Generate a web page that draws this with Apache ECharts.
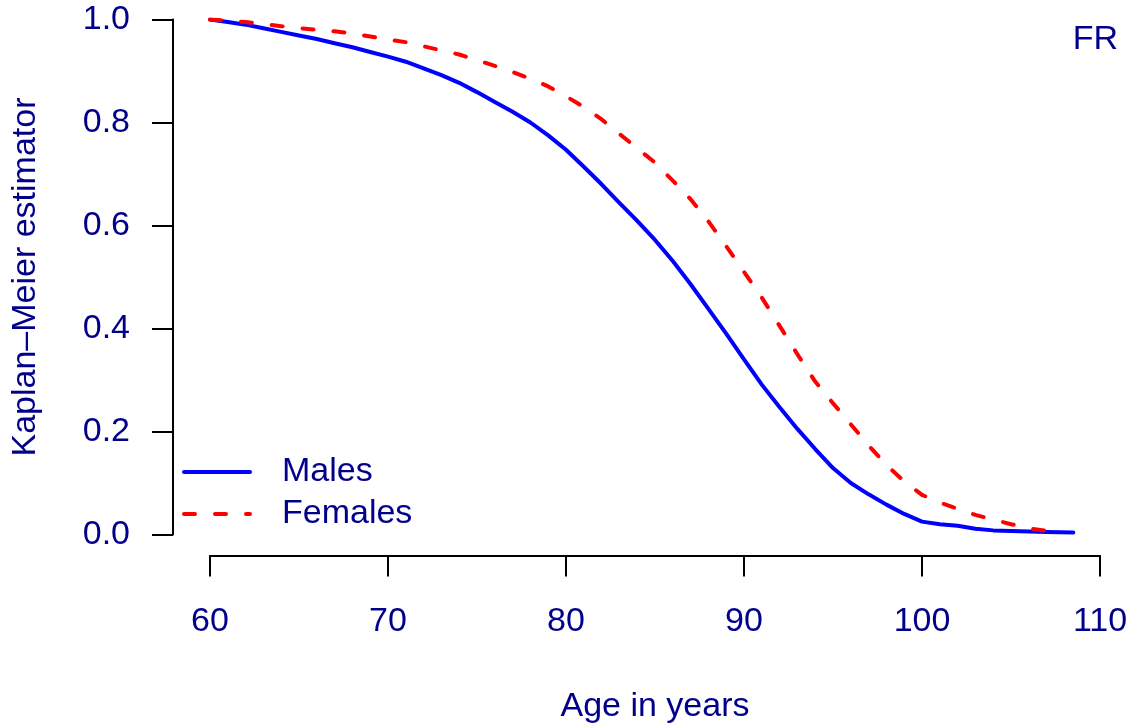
<!DOCTYPE html>
<html>
<head>
<meta charset="utf-8">
<script src="https://cdn.jsdelivr.net/npm/echarts@6/dist/echarts.min.js"></script>
<style>
html,body{margin:0;padding:0;background:#fff;}
#chart{width:1132px;height:724px;}
</style>
</head>
<body>
<div id="chart"></div>
<script>
// Age grid (years) and Kaplan–Meier survival estimates
const maleAges = [60,61,62,63,64,65,66,67,68,69,70,71,72,73,74,75,76,77,78,79,80,81,82,83,84,85,86,87,88,89,90,91,92,93,94,95,96,97,98,99,100,101,102,103,104,105,106,107,108.5];
const maleSurv = [1.000,0.995,0.990,0.983,0.976,0.969,0.962,0.954,0.946,0.937,0.928,0.918,0.905,0.892,0.877,0.859,0.840,0.821,0.800,0.775,0.747,0.714,0.680,0.644,0.609,0.572,0.531,0.486,0.438,0.390,0.340,0.291,0.247,0.205,0.166,0.129,0.100,0.078,0.058,0.040,0.025,0.020,0.017,0.011,0.008,0.007,0.006,0.005,0.004];
const femaleAges = [60,61,62,63,64,65,66,67,68,69,70,71,72,73,74,75,76,77,78,79,80,81,82,83,84,85,86,87,88,89,90,91,92,93,94,95,96,97,98,99,100,101,102,103,104,105,106,107,107.5];
const femaleSurv = [1.000,0.998,0.995,0.991,0.987,0.983,0.980,0.977,0.973,0.967,0.961,0.956,0.948,0.940,0.932,0.921,0.910,0.898,0.885,0.870,0.851,0.830,0.806,0.778,0.750,0.722,0.687,0.651,0.608,0.560,0.510,0.460,0.405,0.350,0.297,0.255,0.214,0.173,0.135,0.103,0.077,0.062,0.050,0.038,0.029,0.020,0.012,0.007,0.005];
const seriesNames = ['Males','Females'];
const xTicks = [60,70,80,90,100,110];
const yTicks = [0,0.2,0.4,0.6,0.8,1.0];
const xTitle = 'Age in years';
const yTitle = 'Kaplan\u2013Meier estimator';
const panelLabel = 'FR';

const TXT = '#00008B';
const FONT = 'Liberation Sans';
const FS = 34;
const zip = (a, b) => a.map((v, i) => [v, b[i]]);

const chart = echarts.init(document.getElementById('chart'), null, {renderer: 'canvas'});
const axisCommon = {
  axisLine: {show: true, onZero: false, lineStyle: {color: '#000', width: 2}},
  axisTick: {show: true, length: 21, inside: false, lineStyle: {color: '#000', width: 2}},
  splitLine: {show: false},
  nameTextStyle: {color: TXT, fontSize: FS, fontFamily: FONT},
};
chart.setOption({
  animation: false,
  backgroundColor: '#fff',
  title: {
    text: panelLabel, right: 14, top: 23, padding: 0,
    textStyle: {color: TXT, fontSize: FS, fontWeight: 'normal', fontFamily: FONT}
  },
  grid: {left: 210, right: 32, top: 19.5, bottom: 189.5, containLabel: false, outerBoundsMode: 'none'},
  legend: {
    orient: 'vertical', left: 182, top: 451, padding: 0,
    itemWidth: 66, itemHeight: 14, itemGap: 0,
    data: seriesNames,
    itemStyle: {opacity: 0},
    lineStyle: {width: 4, cap: 'round'},
    textStyle: {color: TXT, fontSize: FS, fontFamily: FONT, lineHeight: 42, padding: [0,0,0,27]}
  },
  xAxis: Object.assign({}, axisCommon, {
    type: 'value', min: xTicks[0], max: xTicks[xTicks.length-1], interval: 10,
    offset: 21, position: 'bottom',
    axisLabel: {color: TXT, fontSize: FS, fontFamily: FONT, margin: 49},
    name: xTitle, nameLocation: 'middle', nameGap: 134
  }),
  yAxis: Object.assign({}, axisCommon, {
    type: 'value', min: yTicks[0], max: yTicks[yTicks.length-1], interval: 0.2,
    offset: 37, position: 'left',
    axisLabel: {color: TXT, fontSize: FS, fontFamily: FONT, margin: 43, formatter: v => v.toFixed(1)},
    name: yTitle, nameLocation: 'middle', nameGap: 130, nameRotate: 90
  }),
  series: [
    {
      name: seriesNames[0], type: 'line', data: zip(maleAges, maleSurv),
      symbol: 'none', showSymbol: false, smooth: false, color: '#0000FF',
      lineStyle: {color: '#0000FF', width: 4, cap: 'round', join: 'round'}
    },
    {
      name: seriesNames[1], type: 'line', data: zip(femaleAges, femaleSurv),
      symbol: 'none', showSymbol: false, smooth: false, color: '#FF0000',
      lineStyle: {color: '#FF0000', width: 4, type: [11, 20], cap: 'round', join: 'round'}
    }
  ]
});
</script>
</body>
</html>
